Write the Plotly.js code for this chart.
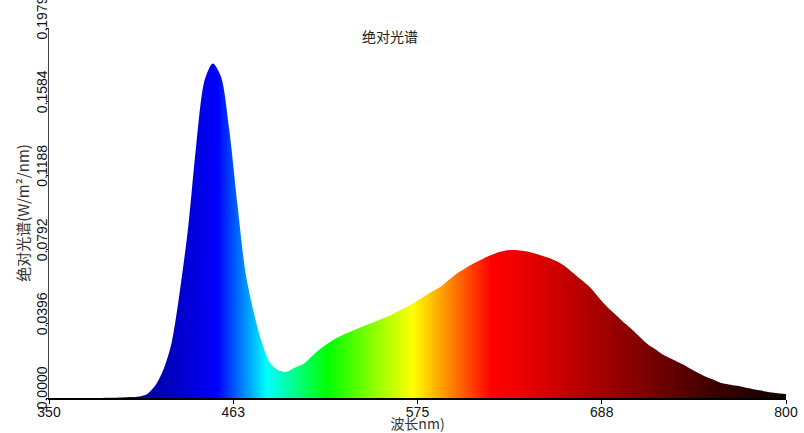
<!DOCTYPE html>
<html>
<head>
<meta charset="utf-8">
<script src="https://cdn.plot.ly/plotly-3.0.1.min.js"></script>
<style>html,body{margin:0;padding:0;background:#fff;}#chart{width:804px;height:433px;}</style>
</head>
<body>
<div id="chart"></div>
<script>
// Wavelength (nm) and absolute spectral irradiance (W/m²/nm)
const wavelengths = [380,385,390,395,400,405,410,415,420,425,430,435,440,445,450,455,460,465,470,475,
  480,485,490,495,500,505,510,515,520,525,530,535,540,545,550,555,560,565,570,575,
  580,585,590,595,600,605,610,615,620,625,630,635,640,645,650,655,660,665,670,675,
  680,685,690,695,700,705,710,715,720,725,730,735,740,745,750,755,760,765,770,775,
  780,785,790,795,800];
const irradiance = [0.0000,0.0001,0.0002,0.0003,0.0005,0.0008,0.0022,0.0068,0.0155,0.0300,
  0.0578,0.0915,0.1360,0.1700,0.1790,0.1720,0.1440,0.1040,0.0670,0.0460,
  0.0295,0.0187,0.0148,0.0140,0.0162,0.0180,0.0220,0.0258,0.0290,0.0318,
  0.0340,0.0358,0.0377,0.0394,0.0412,0.0429,0.0450,0.0472,0.0494,0.0522,
  0.0549,0.0575,0.0601,0.0638,0.0671,0.0698,0.0723,0.0745,0.0765,0.0781,
  0.0790,0.0792,0.0786,0.0777,0.0764,0.0750,0.0731,0.0705,0.0669,0.0632,
  0.0595,0.0545,0.0495,0.0453,0.0412,0.0374,0.0333,0.0292,0.0262,0.0232,
  0.0210,0.0188,0.0165,0.0140,0.0118,0.0100,0.0081,0.0072,0.0065,0.0056,
  0.0047,0.0040,0.0031,0.0026,0.0021];

// Colour of the fill at given wavelengths
const colorStopWavelengths = [380, 400, 453, 483, 520, 572, 620, 640, 700, 760, 800];
const colorStopColors = ['rgb(0,0,100)','rgb(0,0,140)','rgb(0,0,255)','rgb(0,255,255)','rgb(0,255,0)',
  'rgb(255,255,0)','rgb(255,0,0)','rgb(235,0,0)','rgb(145,0,0)','rgb(55,0,0)','rgb(15,0,0)'];

// Axis ticks
const xTickValues = [350, 462.5, 575, 687.5, 800];
const xTickLabels = ['350', '463', '575', '688', '800'];
const yTickValues = [0, 0.0396, 0.0792, 0.1188, 0.1584, 0.1979];
const yTickLabels = ['0.0000', '0.0396', '0.0792', '0.1188', '0.1584', '0.1979'];

const xMin = 350, xMax = 800, yMax = 0.19795;

const colorscale = colorStopWavelengths.map((w, i) => [(w - colorStopWavelengths[0]) / (colorStopWavelengths[colorStopWavelengths.length-1] - colorStopWavelengths[0]), colorStopColors[i]]);

const trace = {
  type: 'scatter',
  mode: 'lines',
  x: wavelengths,
  y: irradiance,
  fill: 'tozeroy',
  line: {width: 0, color: 'rgb(0,0,255)', shape: 'spline', smoothing: 0.8},
  fillgradient: {
    type: 'horizontal',
    colorscale: colorscale,
    start: colorStopWavelengths[0],
    stop: colorStopWavelengths[colorStopWavelengths.length-1]
  },
  hoverinfo: 'x+y'
};

const tickFont = {family: '"Liberation Sans", Arial, sans-serif', size: 14, color: '#111'};
const cjkFont = '"Noto Sans CJK SC", "Liberation Sans", sans-serif';

const layout = {
  width: 804, height: 433,
  margin: {l: 49, r: 18, t: 28, b: 35, pad: 0},
  paper_bgcolor: '#fff', plot_bgcolor: '#fff',
  showlegend: false,
  title: {
    text: '绝对光谱',
    font: {family: cjkFont, size: 14, color: '#222'},
    x: 0.485, xanchor: 'center', xref: 'container',
    y: 0.915, yanchor: 'middle', yref: 'container'
  },
  xaxis: {
    range: [xMin, xMax],
    tickmode: 'array', tickvals: xTickValues, ticktext: xTickLabels,
    ticks: 'outside', ticklen: 4, tickwidth: 1, tickcolor: '#000',
    ticklabelstandoff: -4,
    showline: true, linecolor: '#000', linewidth: 2,
    showgrid: false, zeroline: false,
    tickfont: tickFont,
    automargin: false,
    title: {text: '波长nm)', font: {family: cjkFont, size: 14, color: '#333'}, standoff: 0}
  },
  yaxis: {
    range: [0, yMax],
    tickmode: 'array', tickvals: yTickValues, ticktext: yTickLabels,
    tickangle: -90,
    ticklabelshift: -8,
    ticklabelstandoff: -7,
    ticklabeloverflow: 'allow',
    ticks: 'outside', ticklen: 2, tickwidth: 1, tickcolor: '#000',
    showline: true, linecolor: '#444', linewidth: 1,
    showgrid: false, zeroline: false,
    tickfont: tickFont,
    automargin: false,
    title: {text: '绝对光谱(W/m²/nm)', font: {family: cjkFont, size: 15, color: '#333'}, standoff: 1}
  }
};

Plotly.newPlot('chart', [trace], layout, {staticPlot: true, displayModeBar: false});
</script>
</body>
</html>
